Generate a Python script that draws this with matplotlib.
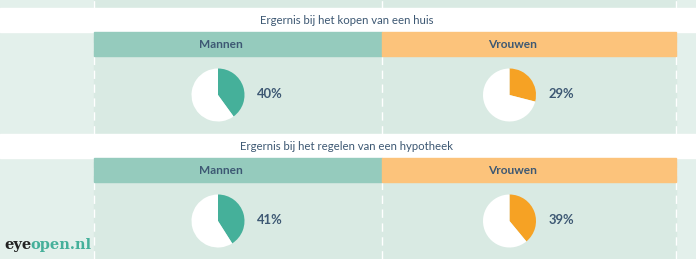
import matplotlib
matplotlib.use("Agg")
import matplotlib.pyplot as plt
from matplotlib.patches import Rectangle

W, H = 696, 259

# data
titles = ["Ergernis bij het kopen van een huis", "Ergernis bij het regelen van een hypotheek"]
groups = ["Mannen", "Vrouwen"]
values = [[40, 29], [41, 39]]  # percent annoyed, per row: Mannen, Vrouwen

# colours
bg_side = "#e3f0eb"
bg_mid = "#d9eae3"
head_colors = ["#95cbbd", "#fcc37b"]
pie_colors = ["#45b09a", "#f6a224"]
txt = "#3d5873"

plt.rcParams["font.family"] = ["Lato", "DejaVu Sans"]

fig = plt.figure(figsize=(W / 100, H / 100), dpi=100)
ax = fig.add_axes([0, 0, 1, 1])


def Y(y):
    # pixel row from top -> data y
    return H - y


col_edges = [94, 382, 676]
pie_x = [218, 509.5]
rows = [  # white band, header bar, pie centre (pixel rows)
    dict(band=(8, 32), head=(32, 56), pie=95),
    dict(band=(134, 158), head=(158, 182), pie=221),
]

ax.add_patch(Rectangle((0, 0), W, H, color=bg_side, zorder=0))
ax.add_patch(Rectangle((col_edges[0], 0), col_edges[2] - col_edges[0], H, color=bg_mid, zorder=0))
for x in col_edges:
    ax.plot([x, x], [0, H], color="white", lw=1, ls=(0, (6, 4)), zorder=1)

for r, row in enumerate(rows):
    b0, b1 = row["band"]
    ax.add_patch(Rectangle((0, Y(b1)), W, b1 - b0, color="white", zorder=2))
    ax.text(347, Y((b0 + b1) / 2), titles[r], ha="center", va="center",
            fontsize=8.2, color=txt, zorder=3)
    h0, h1 = row["head"]
    for g in range(2):
        x0, x1 = col_edges[g], col_edges[g + 1]
        ax.add_patch(Rectangle((x0, Y(h1)), x1 - x0, h1 - h0, color=head_colors[g], zorder=2))
        ax.text(pie_x[g] + 2.5, Y((h0 + h1) / 2), groups[g], ha="center", va="center",
                fontsize=8.6, fontweight="bold", color=txt, zorder=3)
        v = values[r][g]
        ax.pie([v, 100 - v], colors=[pie_colors[g], "white"], startangle=90,
               counterclock=False, radius=26.5, center=(pie_x[g], Y(row["pie"])),
               frame=True, wedgeprops=dict(linewidth=0))
        ax.text(pie_x[g] + 39, Y(row["pie"] - 1), f"{v}%", ha="left", va="center",
                fontsize=9.4, fontweight="bold", color=txt, zorder=3)

ax.set_xlim(0, W)
ax.set_ylim(0, H)
ax.set_aspect("auto")
ax.axis("off")

# logo
logo = ax.text(4, Y(245.5), "eye", ha="left", va="center", fontsize=10.5,
               fontweight="bold", family="DejaVu Serif", color="#222222", zorder=3)
fig.canvas.draw()
bb = logo.get_window_extent()
ax.text(bb.x1 - 1, Y(245.5), "open.nl", ha="left", va="center", fontsize=10.5,
        fontweight="bold", family="DejaVu Serif", color="#45b09a", zorder=3)

fig.savefig("out.png", dpi=100)
